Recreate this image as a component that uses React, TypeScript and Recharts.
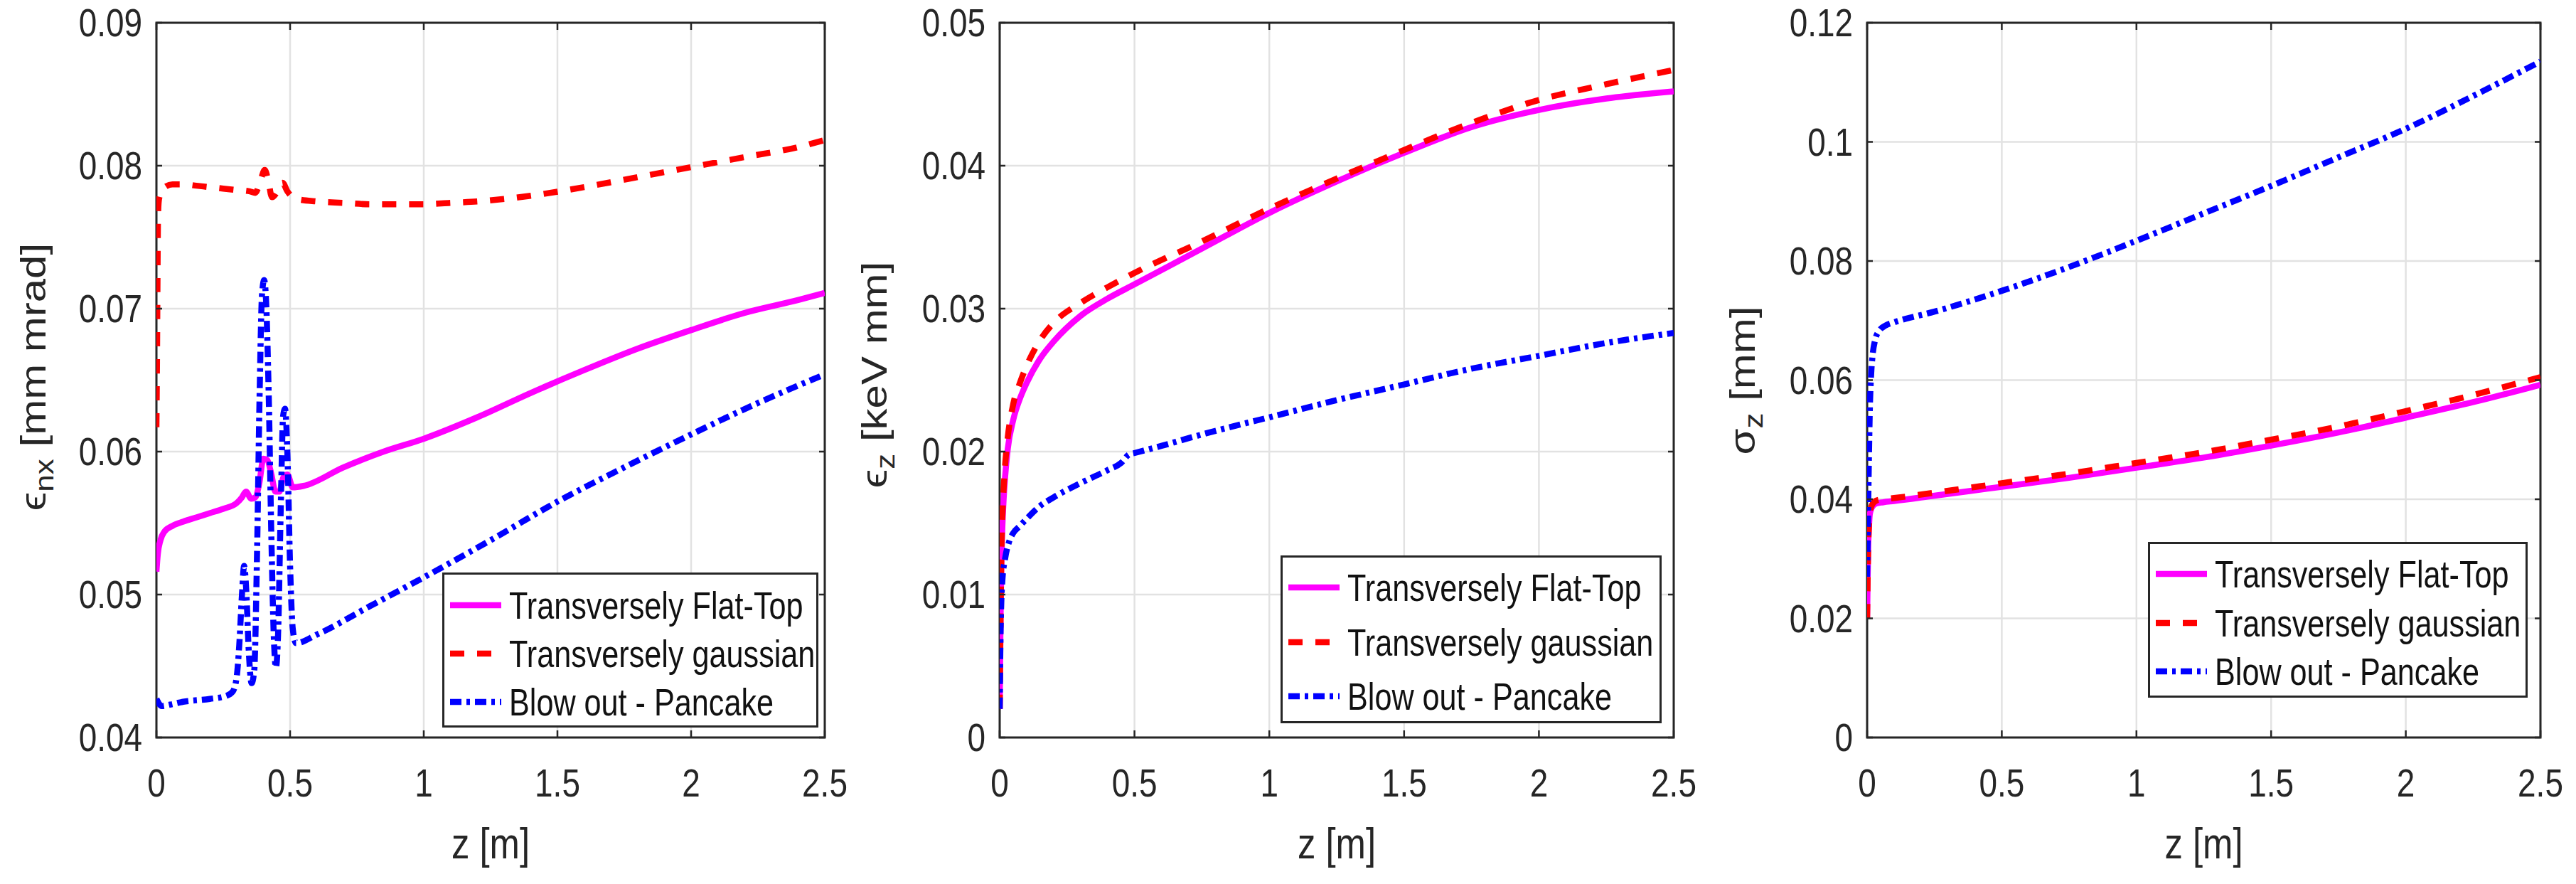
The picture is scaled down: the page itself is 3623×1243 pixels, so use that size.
import {
  CartesianGrid, Legend, Line, LineChart, ReferenceArea, XAxis, YAxis,
} from 'recharts';

const FONT = "'Liberation Sans', Arial, Helvetica, sans-serif";
// The source figure was squashed sideways, so every glyph is narrowed a bit.
const SQUEEZE = 0.82;
const INK = '#262626';
const GRID_STROKE = '#e2e2e2';
const PAGE_W = 3623;
const PAGE_H = 1243;
const PLOT_TOP = 32;
const PLOT_BOTTOM = 1037;
const X_LABEL_BASE = 1120;
const X_TITLE_BASE = 1207;
const LINE_W = 8.5;

const SERIES_NAMES = ['Transversely Flat-Top', 'Transversely gaussian', 'Blow out - Pancake'];
const SERIES_COLORS = ['#ff00ff', '#ff0000', '#0000ff'];
const SERIES_DASH: (string | undefined)[] = [undefined, '20 18', '16 7 5 7'];

const Z_TICKS = [0, 0.5, 1, 1.5, 2, 2.5];
const EMIT_X_TICKS = [0.04, 0.05, 0.06, 0.07, 0.08, 0.09];
const EMIT_Z_TICKS = [0, 0.01, 0.02, 0.03, 0.04, 0.05];
const SIG_Z_TICKS = [0, 0.02, 0.04, 0.06, 0.08, 0.1, 0.12];

// --- normalized transverse emittance [mm mrad]
const emitXFlatZ = [0, 0.005, 0.015, 0.03, 0.06, 0.1, 0.15, 0.2, 0.25, 0.3, 0.32, 0.335, 0.355, 0.37, 0.385, 0.4, 0.415, 0.43, 0.445, 0.46, 0.475, 0.49, 0.51, 0.55, 0.7, 0.85, 1.0, 1.2, 1.4, 1.6, 1.8, 2.0, 2.2, 2.4, 2.5];
const emitXFlat = [0.0516, 0.0528, 0.0538, 0.0544, 0.0548, 0.0551, 0.0554, 0.0557, 0.0560, 0.0564, 0.0568, 0.0572, 0.0567, 0.0568, 0.0578, 0.0595, 0.0594, 0.0584, 0.0572, 0.0572, 0.0582, 0.0584, 0.0575, 0.0576, 0.0589, 0.0600, 0.0609, 0.0624, 0.0641, 0.0657, 0.0672, 0.0685, 0.0697, 0.0706, 0.0711];
const emitXGaussZ = [0, 0.002, 0.004, 0.006, 0.01, 0.025, 0.06, 0.1, 0.15, 0.2, 0.25, 0.3, 0.35, 0.37, 0.39, 0.405, 0.42, 0.432, 0.445, 0.46, 0.472, 0.49, 0.52, 0.6, 0.7, 0.8, 0.9, 1.0, 1.1, 1.2, 1.4, 1.6, 1.8, 2.0, 2.2, 2.4, 2.5];
const emitXGauss = [0.0617, 0.0660, 0.0720, 0.0765, 0.0777, 0.0784, 0.0787, 0.0787, 0.0786, 0.0785, 0.0784, 0.0783, 0.0782, 0.0781, 0.0790, 0.0797, 0.0788, 0.0778, 0.0780, 0.0786, 0.0788, 0.0782, 0.0777, 0.0775, 0.0774, 0.0773, 0.0773, 0.0773, 0.0774, 0.0775, 0.0779, 0.0785, 0.0792, 0.0799, 0.0806, 0.0813, 0.0818];
const emitXPancakeZ = [0, 0.02, 0.05, 0.1, 0.2, 0.26, 0.285, 0.3, 0.31, 0.32, 0.328, 0.336, 0.345, 0.356, 0.366, 0.376, 0.386, 0.395, 0.403, 0.41, 0.42, 0.43, 0.44, 0.447, 0.455, 0.465, 0.474, 0.481, 0.49, 0.5, 0.51, 0.522, 0.6, 0.8, 1.0, 1.25, 1.5, 1.75, 2.0, 2.25, 2.5];
const emitXPancake = [0.0427, 0.0422, 0.0423, 0.0425, 0.0427, 0.0429, 0.0432, 0.0442, 0.0465, 0.0500, 0.0520, 0.0503, 0.0462, 0.0438, 0.0447, 0.0525, 0.0640, 0.0710, 0.0720, 0.0706, 0.0640, 0.0540, 0.0466, 0.0449, 0.0472, 0.0560, 0.0625, 0.0630, 0.0598, 0.0520, 0.0476, 0.0466, 0.0472, 0.0492, 0.0512, 0.0538, 0.0565, 0.0589, 0.0612, 0.0634, 0.0654];

// --- longitudinal emittance [keV mm]
const emitZFlatZ = [0, 0.003, 0.006, 0.01, 0.015, 0.02, 0.03, 0.05, 0.075, 0.1, 0.15, 0.2, 0.3, 0.4, 0.5, 0.75, 1.0, 1.25, 1.5, 1.75, 2.0, 2.25, 2.5];
const emitZFlat = [0.0020, 0.0080, 0.0120, 0.0148, 0.0168, 0.0182, 0.0202, 0.0222, 0.0237, 0.0248, 0.0265, 0.0277, 0.0295, 0.0307, 0.0317, 0.0342, 0.0367, 0.0389, 0.0409, 0.0427, 0.0439, 0.0447, 0.0452];
const emitZGaussZ = emitZFlatZ;
const emitZGauss = [0.0020, 0.0080, 0.0125, 0.0155, 0.0175, 0.0190, 0.0210, 0.0233, 0.0248, 0.0260, 0.0278, 0.0290, 0.0304, 0.0315, 0.0325, 0.0347, 0.0370, 0.0391, 0.0411, 0.0430, 0.0446, 0.0457, 0.0467];
const emitZPancakeZ = [0, 0.003, 0.006, 0.01, 0.02, 0.035, 0.05, 0.075, 0.1, 0.15, 0.2, 0.3, 0.4, 0.45, 0.48, 0.5, 0.6, 0.75, 1.0, 1.25, 1.5, 1.75, 2.0, 2.25, 2.5];
const emitZPancake = [0.0020, 0.0070, 0.0095, 0.0110, 0.0125, 0.0137, 0.0143, 0.0148, 0.0153, 0.0162, 0.0168, 0.0178, 0.0187, 0.0192, 0.0198, 0.0199, 0.0204, 0.0212, 0.0224, 0.0236, 0.0247, 0.0258, 0.0267, 0.0276, 0.0283];

// --- bunch length sigma_z [mm]
const sigZFlatZ = [0, 0.002, 0.004, 0.007, 0.01, 0.02, 0.035, 0.06, 0.1, 0.25, 0.5, 0.75, 1.0, 1.25, 1.5, 1.75, 2.0, 2.25, 2.5];
const sigZFlat = [0.0200, 0.0270, 0.0320, 0.0355, 0.0375, 0.0388, 0.0393, 0.0395, 0.0397, 0.0406, 0.0421, 0.0436, 0.0453, 0.0470, 0.0490, 0.0512, 0.0537, 0.0563, 0.0592];
const sigZGaussZ = sigZFlatZ;
const sigZGauss = [0.0200, 0.0270, 0.0320, 0.0358, 0.0378, 0.0392, 0.0398, 0.0400, 0.0402, 0.0411, 0.0427, 0.0443, 0.0461, 0.0479, 0.0500, 0.0522, 0.0548, 0.0575, 0.0605];
const sigZPancakeZ = [0, 0.003, 0.006, 0.01, 0.015, 0.02, 0.03, 0.045, 0.07, 0.1, 0.25, 0.5, 0.75, 1.0, 1.25, 1.5, 1.75, 2.0, 2.25, 2.5];
const sigZPancake = [0.0270, 0.0360, 0.0450, 0.0550, 0.0610, 0.0640, 0.0668, 0.0683, 0.0692, 0.0697, 0.0715, 0.0750, 0.0790, 0.0834, 0.0880, 0.0926, 0.0974, 0.1022, 0.1077, 0.1135];

const zip = (z: number[], v: number[]) => z.map((x, i) => ({ z: x, v: v[i] }));
const fmt = (v: number) => String(Number(v.toFixed(4)));

interface LegendSpec { x: number; y: number; w: number; h: number; rows: number[] }
interface PanelSpec {
  left: number; width: number; plotLeft: number; plotRight: number;
  yTicks: number[];
  curves: { z: number; v: number }[][];
  title: { main: string; sub: string; unit: string; baseX: number; midY: number };
  legend: LegendSpec;
}

const PANELS: PanelSpec[] = [
  {
    left: 0, width: 1200, plotLeft: 220, plotRight: 1160,
    yTicks: EMIT_X_TICKS,
    curves: [zip(emitXFlatZ, emitXFlat), zip(emitXGaussZ, emitXGauss), zip(emitXPancakeZ, emitXPancake)],
    title: { main: 'ϵ', sub: 'nx', unit: '[mm mrad]', baseX: 64, midY: 530 },
    legend: { x: 622, y: 805, w: 529, h: 218, rows: [46, 114, 182] },
  },
  {
    left: 1200, width: 1200, plotLeft: 1406, plotRight: 2354,
    yTicks: EMIT_Z_TICKS,
    curves: [zip(emitZFlatZ, emitZFlat), zip(emitZGaussZ, emitZGauss), zip(emitZPancakeZ, emitZPancake)],
    title: { main: 'ϵ', sub: 'z', unit: '[keV mm]', baseX: 1247, midY: 527 },
    legend: { x: 1801, y: 781, w: 536, h: 236, rows: [45, 122, 198] },
  },
  {
    left: 2400, width: 1223, plotLeft: 2626, plotRight: 3573,
    yTicks: SIG_Z_TICKS,
    curves: [zip(sigZFlatZ, sigZFlat), zip(sigZGaussZ, sigZGauss), zip(sigZPancakeZ, sigZPancake)],
    title: { main: 'σ', sub: 'z', unit: '[mm]', baseX: 2468, midY: 535 },
    legend: { x: 3021, y: 762, w: 534, h: 219, rows: [45, 114, 182] },
  },
];

function XTick({ x, payload }: any) {
  return (
    <g>
      <line x1={x} x2={x} y1={PLOT_BOTTOM} y2={PLOT_BOTTOM - 10} stroke={INK} strokeWidth={2.5} />
      <line x1={x} x2={x} y1={PLOT_TOP} y2={PLOT_TOP + 10} stroke={INK} strokeWidth={2.5} />
      <text
        transform={`translate(${x},${X_LABEL_BASE}) scale(${SQUEEZE},1)`}
        textAnchor="middle" fontFamily={FONT} fontSize={56} fill={INK}
      >
        {fmt(payload.value)}
      </text>
    </g>
  );
}

function YTick({ y, payload, plotLeft, plotRight }: any) {
  return (
    <g>
      <line x1={plotLeft} x2={plotLeft + 8} y1={y} y2={y} stroke={INK} strokeWidth={2.5} />
      <line x1={plotRight - 8} x2={plotRight} y1={y} y2={y} stroke={INK} strokeWidth={2.5} />
      <text
        transform={`translate(${plotLeft - 20},${y}) scale(${SQUEEZE},1)`}
        textAnchor="end" dominantBaseline="central" fontFamily={FONT} fontSize={56} fill={INK}
      >
        {fmt(payload.value)}
      </text>
    </g>
  );
}

function XTitle({ cx }: { cx: number }) {
  return (
    <text
      transform={`translate(${cx},${X_TITLE_BASE}) scale(${SQUEEZE},1)`}
      textAnchor="middle" fontFamily={FONT} fontSize={62} fill={INK}
    >
      z [m]
    </text>
  );
}

function YTitle({ bx, cy, main, sub, unit }: { bx: number; cy: number; main: string; sub: string; unit: string }) {
  return (
    <text
      transform={`translate(${bx},${cy}) scale(${SQUEEZE},1) rotate(-90)`}
      textAnchor="middle" fontFamily={FONT} fontSize={60} fill={INK}
      style={{ whiteSpace: 'pre' }}
    >
      <tspan>{main}</tspan>
      <tspan fontSize={44} dy={13}>{sub}</tspan>
      <tspan dy={-13}>{` ${unit}`}</tspan>
    </text>
  );
}

function LegendBox({ payload, box }: { payload?: any[]; box: LegendSpec }) {
  // keep the plotting order, not the order recharts hands back
  const items = [...(payload ?? [])].sort(
    (a, b) => SERIES_NAMES.indexOf(a.value) - SERIES_NAMES.indexOf(b.value),
  );
  return (
    <svg width={box.w} height={box.h} style={{ display: 'block', overflow: 'visible' }}>
      <rect x={1.5} y={1.5} width={box.w - 3} height={box.h - 3} fill="#fff" stroke={INK} strokeWidth={3} />
      {items.map((it, i) => {
        const k = SERIES_NAMES.indexOf(it.value);
        const y = box.rows[i];
        return (
          <g key={it.value}>
            <line x1={11} x2={83} y1={y} y2={y} stroke={it.color} strokeWidth={LINE_W} strokeDasharray={SERIES_DASH[k]} />
            <text
              transform={`translate(94,${y}) scale(0.8,1)`}
              dominantBaseline="central" fontFamily={FONT} fontSize={54} fill="#111"
            >
              {it.value}
            </text>
          </g>
        );
      })}
    </svg>
  );
}

function Panel({ p }: { p: PanelSpec }) {
  const pl = p.plotLeft - p.left;
  const pr = p.plotRight - p.left;
  const yDomain = [p.yTicks[0], p.yTicks[p.yTicks.length - 1]];
  const mLeft = 10;
  const mBottom = 10;
  return (
    <div style={{ position: 'absolute', left: p.left, top: 0 }}>
      <LineChart
        width={p.width}
        height={PAGE_H}
        margin={{ top: PLOT_TOP, right: p.width - pr, bottom: mBottom, left: mLeft }}
      >
        <CartesianGrid stroke={GRID_STROKE} strokeWidth={2.5} />
        <XAxis
          type="number" dataKey="z" domain={[0, 2.5]} ticks={Z_TICKS} interval={0} allowDataOverflow
          axisLine={false} tickLine={false} height={PAGE_H - PLOT_BOTTOM - mBottom}
          tick={(t: any) => <XTick {...t} />}
          label={<XTitle cx={(pl + pr) / 2} />}
        />
        <YAxis
          type="number" dataKey="v" domain={yDomain} ticks={p.yTicks} interval={0} allowDataOverflow
          axisLine={false} tickLine={false} width={pl - mLeft}
          tick={(t: any) => <YTick {...t} plotLeft={pl} plotRight={pr} />}
          label={<YTitle bx={p.title.baseX - p.left} cy={p.title.midY} main={p.title.main} sub={p.title.sub} unit={p.title.unit} />}
        />
        <ReferenceArea
          x1={0} x2={2.5} y1={yDomain[0]} y2={yDomain[1]}
          fill="none" stroke={INK} strokeWidth={3} ifOverflow="visible"
        />
        {p.curves.map((pts, i) => (
          <Line
            key={SERIES_NAMES[i]}
            data={pts}
            dataKey="v"
            name={SERIES_NAMES[i]}
            type="monotone"
            stroke={SERIES_COLORS[i]}
            strokeWidth={LINE_W}
            strokeDasharray={SERIES_DASH[i]}
            dot={false}
            activeDot={false}
            isAnimationActive={false}
          />
        ))}
        <Legend
          layout="vertical" align="center" verticalAlign="middle"
          wrapperStyle={{
            position: 'absolute', left: p.legend.x - p.left, top: p.legend.y,
            width: p.legend.w, height: p.legend.h, margin: 0, padding: 0,
          }}
          content={(props: any) => <LegendBox payload={props.payload} box={p.legend} />}
        />
      </LineChart>
    </div>
  );
}

export default function App() {
  return (
    <div style={{ position: 'absolute', left: 0, top: 0, width: PAGE_W, height: PAGE_H, background: '#fff' }}>
      {PANELS.map((p) => <Panel key={p.left} p={p} />)}
    </div>
  );
}
